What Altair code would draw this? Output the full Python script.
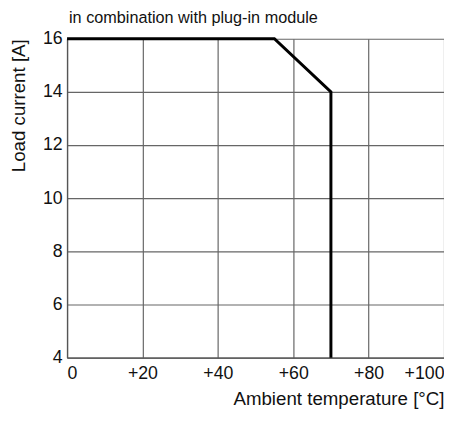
import altair as alt
import pandas as pd

temps = [0, 55, 70, 70]
currents = [16, 16, 14, 4]
x_ticks = [0, 20, 40, 60, 80, 100]
y_ticks = [4, 6, 8, 10, 12, 14, 16]

df = pd.DataFrame({"t": temps, "i": currents, "o": list(range(len(temps)))})
FONT = "Liberation Sans"

chart = alt.Chart(df).mark_line(color="black", strokeWidth=3, strokeJoin="miter").encode(
    x=alt.X("t:Q", scale=alt.Scale(domain=[0, 100], nice=False),
            axis=alt.Axis(values=x_ticks, title="Ambient temperature [°C]",
                          labelExpr="datum.value == 0 ? '0' : '+' + datum.value",
                          labelFlush=True, titleAnchor="end", titleAlign="right",
                          labelPadding=7, titlePadding=8)),
    y=alt.Y("i:Q", scale=alt.Scale(domain=[4, 16], nice=False),
            axis=alt.Axis(values=y_ticks, title="Load current [A]",
                          titleAnchor="end", titlePadding=14, labelPadding=5)),
    order="o:Q",
).properties(
    width=383, height=324,
    title=alt.TitleParams("in combination with plug-in module", anchor="start",
                          frame="group", font=FONT, fontSize=16.5,
                          fontWeight="normal", color="#111", offset=4, dx=2),
    autosize="none",
    padding={"left": 60, "top": 28, "right": 0, "bottom": 53},
).configure_axis(
    labelFont=FONT, labelFontSize=18, labelColor="#111",
    titleFont=FONT, titleFontSize=19, titleColor="#111", titleFontWeight="normal",
    gridColor="#666", gridOpacity=1, gridWidth=1.2,
    domainColor="#555", domainWidth=1.3, ticks=False,
).configure_view(stroke=None)

chart.save("out.html", embed_options={"renderer": "svg", "actions": False})
